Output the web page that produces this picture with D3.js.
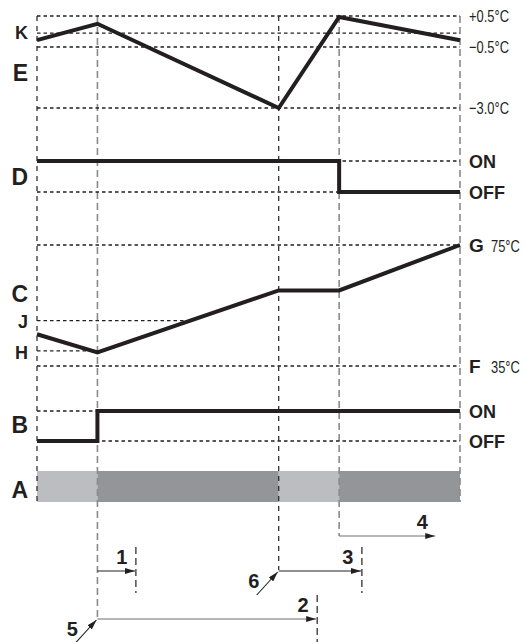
<!DOCTYPE html>
<html>
<head>
<meta charset="utf-8">
<script src="https://cdn.jsdelivr.net/npm/d3@7"></script>
<style>
  body { margin: 0; background: #fff; }
  .lbl { font-family: "Liberation Sans", Arial, sans-serif; font-weight: bold; fill: #231f20; }
  .unit { font-family: "Liberation Sans", Arial, sans-serif; fill: #231f20; }
</style>
</head>
<body>
<svg class="chart"></svg>
<script>
//Time points (same for every trace)
const times = [0, 1, 4, 5, 7];

//E : room temperature offset
const eTemps = [-0.28, 0.25, -3.0, 0.47, -0.28];
const eTicks = [0.5, -0.5, -3.0];
const eTickLabels = ['+0.5°C', '−0.5°C', '−3.0°C'];
const kSetpoint = -0.05;

//D : on/off
const dStates = [1, 1, 1, 0, 0];

//C : water temperature
const cTemps = [45.5, 39.5, 60, 60, 75];
const cRefNames = ['G', 'J', 'H', 'F'];
const cRefValues = [75, 50, 40, 35];
const cRefUnits = ['75°C', '', '', '35°C'];

//B : on/off
const bStates = [0, 1, 1, 1, 1];

//A : phases between time points (0 light, 1 dark)
const aPhases = [0, 1, 0, 1];

//Interval arrows
const intervalNames = ['1', '2', '3', '4'];
const intervalStart = [1, 1, 4, 5];
const intervalEnd = [1.62, 4.62, 5.36, 6.59];
const markerNames = ['5', '6'];
const markerTimes = [1, 4];

//Parameters
let width = 524;
let height = 642;

let svg = d3.select('svg.chart')
  .attr('width', width)
  .attr('height', height);

//Arrowhead
svg.append('defs').append('marker')
    .attr('id', 'head')
    .attr('viewBox', '0 0 10 6')
    .attr('refX', 10)
    .attr('refY', 3)
    .attr('markerWidth', 10)
    .attr('markerHeight', 6)
    .attr('markerUnits', 'userSpaceOnUse')
    .attr('orient', 'auto')
  .append('path')
    .attr('d', 'M0,0 L10,3 L0,6 Z')
    .attr('fill', '#231f20');

//Scales
let x = d3.scaleLinear().domain([0, 7]).range([37, 460]);
let yE = d3.scaleLinear().domain([0.5, -0.5, -3.0]).range([16, 47, 108]);
let yD = d3.scaleLinear().domain([0, 1]).range([192, 161]);
let yC = d3.scaleLinear().domain([35, 75]).range([366, 245]);
let yB = d3.scaleLinear().domain([0, 1]).range([441, 411]);

let x0 = x(times[0]);
let x1 = x(times[times.length - 1]);

//A band
svg.selectAll('.band')
  .data(aPhases)
  .enter()
  .append('rect')
    .attr('x', (d, i) => x(times[i]))
    .attr('width', (d, i) => x(times[i + 1]) - x(times[i]))
    .attr('y', 471)
    .attr('height', 31)
    .attr('fill', d => d ? '#939598' : '#bcbdc0');

//Vertical guides
let vBottom = [502, 619, 570, 536, 502];
let vGray = [false, true, false, true, true];
svg.selectAll('.vguide')
  .data(times)
  .enter()
  .append('line')
    .attr('x1', d => x(d)).attr('x2', d => x(d))
    .attr('y1', 16)
    .attr('y2', (d, i) => vBottom[i])
    .attr('stroke', (d, i) => vGray[i] ? '#8a8a8a' : '#231f20')
    .attr('stroke-width', (d, i) => vGray[i] ? 1.6 : 1.2)
    .attr('stroke-dasharray', (d, i) => vGray[i] ? '7,4' : '5,5');

//Dotted horizontal helper
function hDot(y, xa, xb) {
  svg.append('line')
    .attr('x1', xa).attr('x2', xb)
    .attr('y1', y).attr('y2', y)
    .attr('stroke', '#231f20')
    .attr('stroke-width', 1.3)
    .attr('stroke-dasharray', '3.5,3');
}

//E references
eTicks.forEach(t => hDot(yE(t), x0, x1));
hDot(yE(kSetpoint), x0, x1);
//D / B references
[0, 1].forEach(s => { hDot(yD(s), x0, x1); hDot(yB(s), x0, x1); });
//C references (J and H stop where the curve meets them)
cRefValues.forEach(v => {
  let xe = x1;
  for (let i = 1; i < times.length - 1; i++) {
    let a = cTemps[i], b = cTemps[i + 1];
    if (a < v && b > v) {
      xe = x(times[i] + (v - a) / (b - a) * (times[i + 1] - times[i]));
      break;
    }
  }
  if (v > cTemps[1] && v < cTemps[1] + 1) xe = x(times[1]);
  hDot(yC(v), x0, xe);
});

//Traces
function trace(vals, yScale, curve) {
  svg.append('path')
    .datum(vals)
    .attr('fill', 'none')
    .attr('stroke', '#231f20')
    .attr('stroke-width', 4)
    .attr('stroke-linejoin', 'miter')
    .attr('d', d3.line()
      .x((d, i) => x(times[i]))
      .y(d => yScale(d))
      .curve(curve));
}
trace(eTemps, yE, d3.curveLinear);
trace(dStates, yD, d3.curveStepAfter);
trace(cTemps, yC, d3.curveLinear);
trace(bStates, yB, d3.curveStepAfter);

//Left labels
let bigLabels = [['E', 81], ['D', 185], ['C', 302], ['B', 433], ['A', 498]];
bigLabels.forEach(d => {
  svg.append('text').attr('class', 'lbl')
    .attr('x', 28).attr('y', d[1])
    .attr('text-anchor', 'end')
    .style('font-size', '23px')
    .text(d[0]);
});
let smallLabels = [['K', yE(kSetpoint) + 6], ['J', yC(cRefValues[1]) + 7], ['H', yC(cRefValues[2]) + 8]];
smallLabels.forEach(d => {
  svg.append('text').attr('class', 'lbl')
    .attr('x', 28).attr('y', d[1])
    .attr('text-anchor', 'end')
    .style('font-size', '18px')
    .text(d[0]);
});

//Condensed unit text
function unitText(tx, ty, str) {
  svg.append('text').attr('class', 'unit')
    .attr('transform', 'translate(' + tx + ',' + ty + ') scale(0.76,1)')
    .style('font-size', '17px')
    .text(str);
}

//Right labels
eTicks.forEach((t, i) => unitText(469, yE(t) + 6, eTickLabels[i]));
['OFF', 'ON'].forEach((s, i) => {
  [yD, yB].forEach(sc => {
    svg.append('text').attr('class', 'lbl')
      .attr('x', 469).attr('y', sc(i) + 7)
      .style('font-size', '18px')
      .text(s);
  });
});
[0, 3].forEach(i => {
  svg.append('text').attr('class', 'lbl')
    .attr('x', 469).attr('y', yC(cRefValues[i]) + 7)
    .style('font-size', '19px')
    .text(cRefNames[i]);
  unitText(491, yC(cRefValues[i]) + 7, cRefUnits[i]);
});

//Interval arrows
let arrowY = [571, 619, 571, 536];
let arrowColor = ['#231f20', '#6d6e71', '#231f20', '#6d6e71'];
intervalNames.forEach((name, i) => {
  let xa = x(intervalStart[i]);
  let xb = x(intervalEnd[i]);
  svg.append('line')
    .attr('x1', xa).attr('x2', xb)
    .attr('y1', arrowY[i]).attr('y2', arrowY[i])
    .attr('stroke', arrowColor[i])
    .attr('stroke-width', 1.2)
    .attr('marker-end', 'url(#head)');
  //end guide
  if (i < 3) {
    svg.append('line')
      .attr('x1', xb + 1).attr('x2', xb + 1)
      .attr('y1', arrowY[i] - 24).attr('y2', i === 1 ? 642 : arrowY[i] + 22)
      .attr('stroke', '#231f20')
      .attr('stroke-width', 1.2)
      .attr('stroke-dasharray', '7,4');
  }
  svg.append('text').attr('class', 'lbl')
    .attr('x', xb - 13).attr('y', arrowY[i] - 7)
    .attr('text-anchor', 'middle')
    .style('font-size', '20px')
    .text(name);
});

//Start markers
let markerY = [619, 571];
markerNames.forEach((name, i) => {
  let xm = x(markerTimes[i]);
  svg.append('line')
    .attr('x1', xm - 22).attr('y1', markerY[i] + 24)
    .attr('x2', xm - 1).attr('y2', markerY[i] + 1)
    .attr('stroke', '#231f20')
    .attr('stroke-width', 1.1)
    .attr('marker-end', 'url(#head)');
  svg.append('text').attr('class', 'lbl')
    .attr('x', xm - 25).attr('y', markerY[i] + 17)
    .attr('text-anchor', 'middle')
    .style('font-size', '20px')
    .text(name);
});
</script>
</body>
</html>
